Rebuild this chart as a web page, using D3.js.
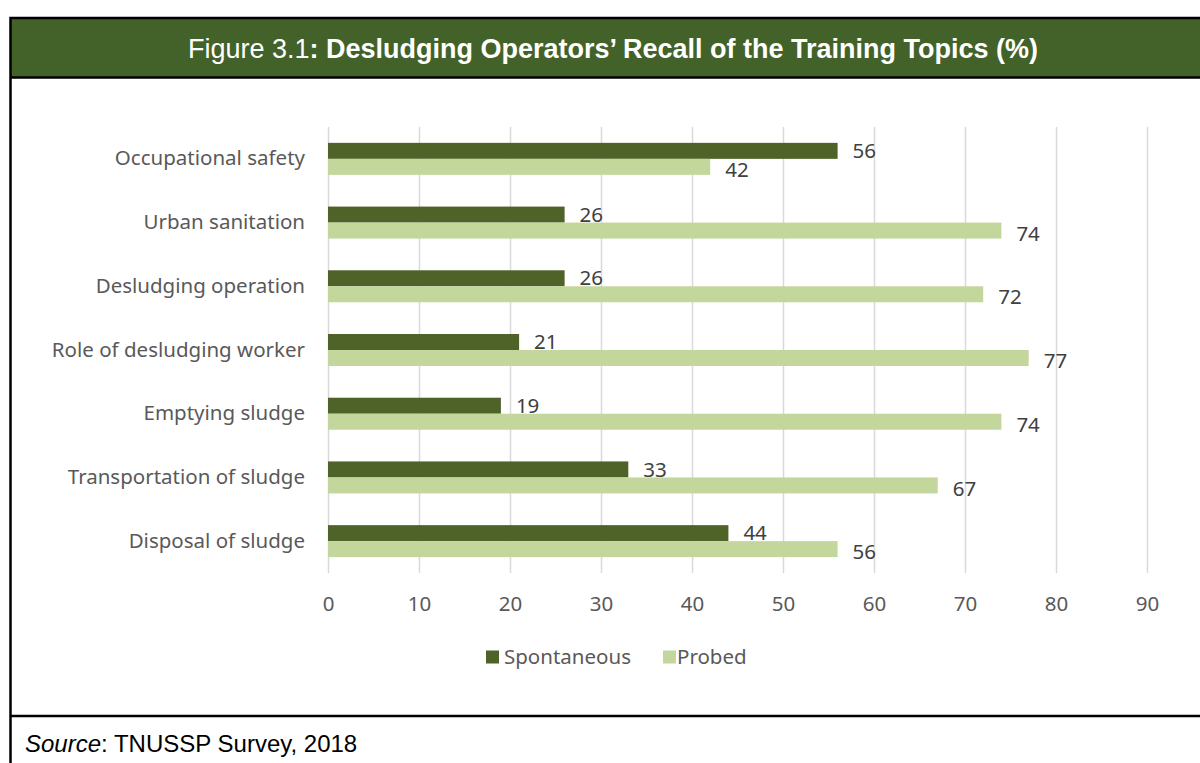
<!DOCTYPE html>
<html>
<head>
<meta charset="utf-8">
<script src="https://cdn.jsdelivr.net/npm/d3@7"></script>
<style>
  body { margin: 0; background: #fff; }
</style>
</head>
<body>
<svg></svg>
<script>
var categories = ["Occupational safety", "Urban sanitation", "Desludging operation",
    "Role of desludging worker", "Emptying sludge", "Transportation of sludge", "Disposal of sludge"]
var spontaneous = [56, 26, 26, 21, 19, 33, 44]
var probed = [42, 74, 72, 77, 74, 67, 56]
var seriesNames = ["Spontaneous", "Probed"]
var ticks = [0, 10, 20, 30, 40, 50, 60, 70, 80, 90]

var width = 1200
var height = 763
var darkGreen = "#4f6228"
var lightGreen = "#c3d69b"
var labelFont = "'Noto Sans', sans-serif"
var fontSize = "20.5px"
var textGrey = "#595959"

var svg = d3.select("svg")
    .attr("width", width)
    .attr("height", height)

// frame + header
svg.append("rect")
    .attr("x", 10).attr("y", 18)
    .attr("width", 1240).attr("height", 60)
    .attr("fill", "#42622a")
svg.append("path")
    .attr("d", "M10.5,763 V18 H1250 M10,77.5 H1250 M10,716 H1250")
    .attr("fill", "none")
    .attr("stroke", "#000")
    .attr("stroke-width", 2.5)

var title = svg.append("text")
    .attr("x", 613).attr("y", 58)
    .attr("text-anchor", "middle")
    .attr("fill", "#fff")
    .style("font-family", "'Liberation Sans', Arial, sans-serif")
    .style("font-size", "27px")
title.append("tspan").text("Figure 3.1")
title.append("tspan").attr("font-weight", "bold").text(": Desludging Operators\u2019 Recall of the Training Topics (%)")

var source = svg.append("text")
    .attr("x", 25).attr("y", 752)
    .attr("fill", "#000")
    .style("font-family", "'Liberation Sans', Arial, sans-serif")
    .style("font-size", "24px")
source.append("tspan").attr("font-style", "italic").text("Source")
source.append("tspan").text(": TNUSSP Survey, 2018")

// scales
var xScale = d3.scaleLinear()
    .domain([0, 100])
    .range([328, 1238])

var yScale = d3.scaleBand()
    .domain(categories)
    .range([127, 573])

var sub = d3.scaleBand()
    .domain(seriesNames)
    .range([yScale.bandwidth() / 2 - 16, yScale.bandwidth() / 2 + 16])

// gridlines
var xAxis = d3.axisBottom(xScale)
    .tickValues(ticks)
    .tickSize(-(573 - 127))
    .tickPadding(23)

var gx = svg.append("g")
    .attr("transform", "translate(0,573)")
    .call(xAxis)
gx.select(".domain").remove()
gx.selectAll(".tick line").attr("stroke", "#d9d9d9").attr("stroke-width", 1.5)
gx.selectAll(".tick text")
    .attr("fill", textGrey)
    .style("font-family", labelFont)
    .style("font-size", fontSize)

var yAxis = d3.axisLeft(yScale)
    .tickSize(0)
    .tickPadding(23)
var gy = svg.append("g")
    .attr("transform", "translate(328,0)")
    .call(yAxis)
gy.select(".domain").remove()
gy.selectAll(".tick text")
    .attr("fill", textGrey)
    .style("font-family", labelFont)
    .style("font-size", fontSize)

// bars
var rows = categories.map(function(c, i) {
    return [
        {cat: c, series: "Spontaneous", value: spontaneous[i]},
        {cat: c, series: "Probed", value: probed[i]}
    ]
})
var flat = [].concat(...rows)
var colorScale = d3.scaleOrdinal().domain(seriesNames).range([darkGreen, lightGreen])

svg.selectAll("rect.bar")
    .data(flat)
    .enter()
    .append("rect")
    .attr("class", "bar")
    .attr("x", xScale(0))
    .attr("y", d => yScale(d.cat) + sub(d.series))
    .attr("width", d => xScale(d.value) - xScale(0))
    .attr("height", sub.bandwidth())
    .attr("fill", d => colorScale(d.series))

svg.selectAll("text.val")
    .data(flat)
    .enter()
    .append("text")
    .attr("class", "val")
    .attr("x", d => xScale(d.value) + 15)
    .attr("y", d => yScale(d.cat) + sub(d.series) + sub.bandwidth() / 2 + (d.series == "Spontaneous" ? 0 : 3))
    .attr("dy", "0.35em")
    .attr("fill", "#404040")
    .style("font-family", labelFont)
    .style("font-size", fontSize)
    .text(d => d.value)

// legend
var legendX = [486, 663]
var legend = svg.selectAll("g.legend")
    .data(seriesNames)
    .enter()
    .append("g")
    .attr("class", "legend")
    .attr("transform", (d, i) => "translate(" + legendX[i] + ",657)")
legend.append("rect")
    .attr("x", 0).attr("y", -6.5)
    .attr("width", 13).attr("height", 13)
    .attr("fill", d => colorScale(d))
legend.append("text")
    .attr("x", (d, i) => i == 0 ? 18 : 14)
    .attr("dy", "0.35em")
    .attr("fill", textGrey)
    .style("font-family", labelFont)
    .style("font-size", fontSize)
    .text(d => d)
</script>
</body>
</html>
